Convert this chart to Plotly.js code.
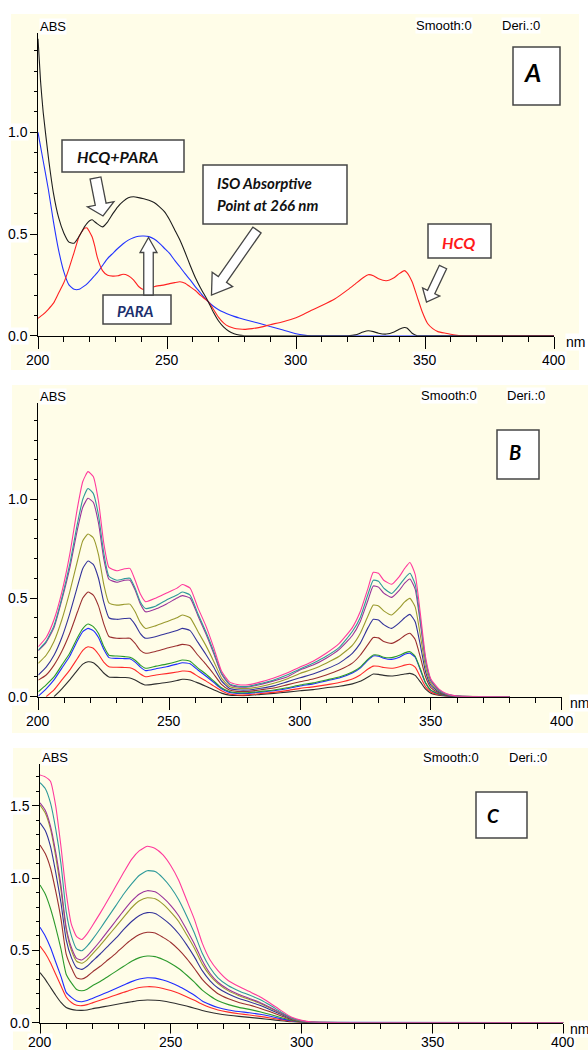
<!DOCTYPE html>
<html><head><meta charset="utf-8">
<script src="https://cdn.plot.ly/plotly-3.0.1.min.js"></script>
<style>html,body{margin:0;padding:0;background:#fff}#chart{width:588px;height:1050px}</style>
</head><body><div id="chart"></div>
<script>
// ---------------- DATA ----------------
// Panel A : wavelengths (nm) and absorbances
const wlA = [200,201,202,204,206,208,210,212,214,216,218,219,220,221,222,223,225,227,229,231,233,235,237,239,241,243,245,247,249,251,253,255,257,259,261,263,265,266,268,270,272,274,276,278,280,283,286,290,295,300,303,306,310,315,320,323,326,328,330,332,335,338,340,342,343,345,347,349,351,353,355,358,361,365,400];
const absMix = [1.46,1.25,1.10,0.88,0.70,0.58,0.505,0.46,0.455,0.49,0.535,0.552,0.565,0.57,0.56,0.55,0.535,0.56,0.60,0.635,0.66,0.678,0.683,0.679,0.673,0.666,0.655,0.635,0.61,0.57,0.52,0.47,0.41,0.345,0.285,0.235,0.19,0.167,0.115,0.072,0.042,0.022,0.01,0.003,0,0,0,0,0,0,0,0,0,0,0,0.004,0.018,0.024,0.02,0.012,0.008,0.018,0.032,0.04,0.038,0.012,0,0,0,0,0,0,0,0,0];
const absHCQ = [0.085,0.095,0.105,0.13,0.16,0.21,0.26,0.33,0.41,0.49,0.528,0.53,0.51,0.485,0.44,0.385,0.32,0.297,0.293,0.295,0.302,0.295,0.275,0.242,0.226,0.232,0.241,0.246,0.25,0.256,0.261,0.265,0.258,0.24,0.222,0.198,0.178,0.167,0.13,0.09,0.062,0.045,0.037,0.033,0.031,0.035,0.041,0.054,0.069,0.088,0.105,0.125,0.148,0.18,0.225,0.255,0.285,0.3,0.295,0.28,0.27,0.285,0.305,0.32,0.31,0.265,0.19,0.115,0.06,0.035,0.02,0.012,0.005,0,0];
const absPARA = [1.0,0.93,0.86,0.72,0.56,0.42,0.315,0.25,0.228,0.228,0.245,0.255,0.268,0.282,0.296,0.31,0.345,0.38,0.405,0.43,0.452,0.47,0.482,0.489,0.49,0.487,0.475,0.455,0.43,0.405,0.37,0.339,0.305,0.274,0.24,0.21,0.18,0.167,0.145,0.128,0.115,0.104,0.095,0.087,0.08,0.07,0.06,0.045,0.028,0.01,0.003,0,0,0,0,0,0,0,0,0,0,0,0,0,0,0,0,0,0,0,0,0,0,0,0];

// Panel B : HCQ concentration series
const wlB = [200,203,206,209,212,215,217,219,221,223, 225,227,230,233,235,237,239,241,245,249, 253,255,258,261,264,267,270,273,276,280, 285,290,295,300,305,310,315,320,323,326, 328,330,332,335,338,340,342,344,346,348, 350,353,356,360,380];
const bBlack = [null,null,0.0,0.04,0.085,0.135,0.165,0.177,0.172,0.15, 0.12,0.1,0.098,0.097,0.095,0.085,0.07,0.059,0.065,0.072, 0.082,0.088,0.085,0.07,0.053,0.035,0.018,0.008,0.006,0.006, 0.012,0.017,0.023,0.03,0.036,0.045,0.053,0.065,0.078,0.1, 0.115,0.113,0.108,0.105,0.11,0.115,0.118,0.108,0.075,0.038, 0.018,0.008,0.003,0,0];
const bRed = [null,0.0,0.035,0.085,0.135,0.195,0.235,0.253,0.245,0.215, 0.175,0.152,0.149,0.148,0.147,0.135,0.115,0.101,0.11,0.117, 0.125,0.13,0.127,0.103,0.08,0.055,0.03,0.014,0.009,0.009, 0.016,0.022,0.031,0.042,0.05,0.06,0.072,0.09,0.11,0.14, 0.155,0.154,0.148,0.144,0.152,0.16,0.164,0.15,0.1,0.05, 0.024,0.01,0.004,0.001,0];
const bBlue = [0.003,0.04,0.085,0.145,0.205,0.285,0.33,0.346,0.335,0.30, 0.24,0.198,0.194,0.193,0.192,0.175,0.15,0.132,0.142,0.152, 0.165,0.172,0.167,0.135,0.105,0.073,0.04,0.022,0.017,0.017, 0.023,0.03,0.04,0.054,0.065,0.08,0.095,0.12,0.145,0.185, 0.206,0.205,0.195,0.189,0.2,0.215,0.22,0.2,0.135,0.068, 0.032,0.014,0.005,0.001,0];
const bGreen = [0.025,0.06,0.10,0.16,0.22,0.30,0.345,0.368,0.355,0.32, 0.255,0.21,0.206,0.203,0.2,0.185,0.16,0.144,0.155,0.165, 0.178,0.186,0.18,0.145,0.115,0.08,0.045,0.026,0.02,0.02, 0.027,0.034,0.045,0.059,0.07,0.085,0.1,0.125,0.15,0.19, 0.211,0.21,0.2,0.198,0.21,0.222,0.228,0.205,0.14,0.07, 0.033,0.015,0.006,0.001,0];
const bBrown = [0.084,0.11,0.16,0.23,0.32,0.43,0.50,0.53,0.515,0.46, 0.37,0.305,0.296,0.296,0.296,0.27,0.235,0.22,0.23,0.245, 0.258,0.265,0.258,0.21,0.165,0.115,0.062,0.034,0.027,0.027, 0.035,0.044,0.06,0.076,0.09,0.11,0.135,0.17,0.21,0.265, 0.30,0.298,0.28,0.27,0.29,0.31,0.321,0.29,0.2,0.1, 0.046,0.02,0.008,0.002,0];
const bNavy = [0.11,0.15,0.21,0.30,0.42,0.56,0.65,0.687,0.67,0.60, 0.48,0.40,0.392,0.396,0.397,0.365,0.32,0.296,0.305,0.32, 0.335,0.346,0.335,0.275,0.215,0.15,0.08,0.043,0.035,0.034, 0.043,0.055,0.075,0.096,0.115,0.14,0.17,0.22,0.27,0.35, 0.392,0.388,0.365,0.346,0.375,0.40,0.417,0.38,0.26,0.125, 0.058,0.025,0.01,0.002,0];
const bOlive = [0.169,0.21,0.28,0.39,0.53,0.69,0.79,0.824,0.805,0.72, 0.57,0.475,0.464,0.468,0.469,0.43,0.375,0.346,0.36,0.38, 0.40,0.414,0.40,0.33,0.26,0.18,0.095,0.052,0.043,0.042, 0.052,0.068,0.09,0.118,0.14,0.17,0.205,0.26,0.32,0.41, 0.464,0.46,0.435,0.414,0.45,0.48,0.498,0.455,0.31,0.15, 0.068,0.03,0.011,0.003,0];
const bPurple = [0.233,0.275,0.35,0.49,0.65,0.85,0.96,1.005,0.985,0.88, 0.70,0.595,0.58,0.59,0.59,0.54,0.47,0.43,0.445,0.47, 0.50,0.512,0.50,0.41,0.32,0.22,0.115,0.062,0.05,0.049, 0.062,0.08,0.10,0.135,0.16,0.195,0.24,0.31,0.38,0.49, 0.561,0.555,0.525,0.503,0.54,0.575,0.596,0.545,0.37,0.18, 0.08,0.033,0.012,0.003,0];
const bTeal = [0.236,0.28,0.36,0.50,0.67,0.88,1.00,1.055,1.03,0.92, 0.73,0.61,0.59,0.598,0.60,0.55,0.48,0.447,0.46,0.49, 0.515,0.53,0.515,0.42,0.33,0.23,0.12,0.066,0.054,0.052, 0.067,0.085,0.11,0.14,0.17,0.205,0.25,0.33,0.40,0.52, 0.59,0.585,0.55,0.523,0.565,0.60,0.625,0.57,0.39,0.185, 0.085,0.035,0.013,0.003,0];
const bPink = [0.253,0.30,0.39,0.53,0.72,0.96,1.09,1.14,1.115,0.99, 0.78,0.655,0.638,0.648,0.65,0.59,0.52,0.481,0.50,0.525, 0.55,0.568,0.55,0.45,0.36,0.25,0.13,0.075,0.062,0.06, 0.075,0.095,0.12,0.15,0.18,0.22,0.27,0.35,0.43,0.55, 0.63,0.625,0.59,0.57,0.61,0.65,0.68,0.62,0.42,0.2, 0.09,0.04,0.015,0.003,0];

// Panel C : PARA concentration series
const wlC = [200,202,204,206,208,210,212,214,216,218, 220,223,226,229,232,235,238,241,244,247, 250,253,256,259,262,265,268,272,276,280, 284,288,292,296,300,304,400];
const cBlack = [0.346,0.30,0.245,0.19,0.14,0.105,0.092,0.086,0.085,0.088, 0.097,0.106,0.116,0.126,0.136,0.145,0.153,0.157,0.155,0.15, 0.14,0.128,0.115,0.1,0.085,0.072,0.062,0.052,0.044,0.037, 0.03,0.022,0.014,0.007,0.003,0.001,0];
const cRed = [0.53,0.48,0.415,0.335,0.255,0.178,0.14,0.121,0.118,0.125, 0.137,0.155,0.173,0.192,0.21,0.228,0.243,0.249,0.247,0.237, 0.222,0.203,0.18,0.155,0.127,0.105,0.088,0.073,0.062,0.053, 0.044,0.033,0.021,0.01,0.004,0.001,0];
const cBlue = [0.66,0.60,0.52,0.42,0.32,0.21,0.175,0.15,0.145,0.153, 0.168,0.19,0.213,0.237,0.26,0.284,0.302,0.311,0.308,0.295, 0.277,0.252,0.222,0.19,0.15,0.125,0.105,0.088,0.077,0.069, 0.058,0.044,0.028,0.013,0.005,0.002,0];
const cGreen = [0.952,0.89,0.79,0.66,0.51,0.335,0.275,0.23,0.221,0.232, 0.255,0.285,0.32,0.355,0.39,0.425,0.45,0.461,0.457,0.437, 0.41,0.375,0.33,0.28,0.225,0.185,0.152,0.125,0.106,0.092, 0.076,0.057,0.036,0.017,0.006,0.002,0];
const cBrown = [1.229,1.17,1.07,0.91,0.72,0.475,0.38,0.31,0.302,0.32, 0.35,0.39,0.435,0.48,0.53,0.575,0.61,0.625,0.62,0.59, 0.555,0.505,0.445,0.375,0.3,0.245,0.2,0.165,0.14,0.122, 0.1,0.075,0.048,0.022,0.008,0.003,0];
const cNavy = [1.383,1.33,1.22,1.04,0.83,0.575,0.45,0.38,0.369,0.39, 0.425,0.475,0.53,0.585,0.645,0.70,0.742,0.761,0.755,0.72, 0.675,0.615,0.54,0.455,0.36,0.29,0.24,0.198,0.168,0.145, 0.12,0.09,0.058,0.027,0.01,0.003,0];
const cOlive = [1.505,1.45,1.34,1.15,0.92,0.645,0.50,0.425,0.411,0.435, 0.475,0.535,0.60,0.665,0.73,0.795,0.843,0.864,0.857,0.82, 0.765,0.70,0.61,0.515,0.405,0.325,0.27,0.22,0.187,0.161, 0.135,0.1,0.065,0.03,0.011,0.004,0];
const cPurple = [1.521,1.47,1.36,1.18,0.95,0.66,0.52,0.445,0.434,0.46, 0.50,0.565,0.635,0.705,0.775,0.84,0.89,0.913,0.905,0.865, 0.81,0.74,0.645,0.545,0.43,0.34,0.28,0.23,0.195,0.168, 0.14,0.105,0.068,0.032,0.012,0.004,0];
const cTeal = [1.66,1.62,1.52,1.34,1.10,0.77,0.60,0.51,0.498,0.53, 0.575,0.65,0.73,0.81,0.89,0.96,1.02,1.051,1.045,1.0, 0.935,0.85,0.74,0.62,0.48,0.38,0.31,0.255,0.22,0.191, 0.16,0.12,0.075,0.035,0.013,0.004,0];
const cPink = [1.713,1.70,1.67,1.50,1.22,0.90,0.68,0.595,0.575,0.615, 0.67,0.758,0.85,0.945,1.04,1.13,1.19,1.22,1.205,1.16, 1.085,0.985,0.85,0.715,0.55,0.433,0.36,0.29,0.25,0.215, 0.18,0.135,0.085,0.04,0.016,0.005,0];

// axis tick labels
const xTickVals = [200,250,300,350,400];
const yTickValsAB = [0,0.5,1.0];
const yTickValsC = [0,0.5,1.0,1.5];

// ---------------- STYLE / LAYOUT ----------------
const W = 588, H = 1050;
const seriesColors = ['#2e2e2e','#ff2a2a','#1f2cff','#2c9a2c','#9b2f2f','#33339a','#9a9a2e','#9a339a','#2f9a9a','#ff3a9c'];
const bSeries = [bBlack,bRed,bBlue,bGreen,bBrown,bNavy,bOlive,bPurple,bTeal,bPink];
const cSeries = [cBlack,cRed,cBlue,cGreen,cBrown,cNavy,cOlive,cPurple,cTeal,cPink];

const panels = {
  A:{ax:'',  x0:38,   x1:554,   y0:335.7,  scale:203.4, ymax:1.49, bg:[11,14,579,370],  lab:24, nmx:565},
  B:{ax:'2', x0:38.3, x1:561.7, y0:696.7,  scale:197.4, ymax:1.49, bg:[12,385,588,733], lab:24, nmx:569},
  C:{ax:'3', x0:40,   x1:563.4, y0:1022.7, scale:144.6, ymax:1.79, bg:[13,748,588,1050], lab:19, nmx:569}
};
const fx = px => px / W;
const fy = py => 1 - py / H;
const NARROW = 'Liberation Sans Narrow, Arial Narrow, Liberation Sans, Arial, sans-serif';
const LABEL = 'Lato, Open Sans, Noto Sans, sans-serif';

const traces = [];
const lw = 1.1;
const ln = c => ({color:c, width:lw, shape:'spline', smoothing:0.5});
traces.push({x:wlA, y:absPARA, xaxis:'x', yaxis:'y', mode:'lines', line:ln('#2233ff'), hoverinfo:'skip'});
traces.push({x:wlA, y:absHCQ, xaxis:'x', yaxis:'y', mode:'lines', line:ln('#ff2222'), hoverinfo:'skip'});
traces.push({x:wlA, y:absMix, xaxis:'x', yaxis:'y', mode:'lines', line:ln('#1e1e1e'), hoverinfo:'skip'});
bSeries.forEach((s,i)=>traces.push({x:wlB, y:s, xaxis:'x2', yaxis:'y2', mode:'lines', line:ln(seriesColors[i]), hoverinfo:'skip'}));
cSeries.forEach((s,i)=>traces.push({x:wlC, y:s, xaxis:'x3', yaxis:'y3', mode:'lines', line:ln(seriesColors[i]), hoverinfo:'skip'}));

const layout = {
  width:W, height:H, margin:{l:0,r:0,t:0,b:0},
  paper_bgcolor:'#ffffff', plot_bgcolor:'rgba(0,0,0,0)',
  showlegend:false, shapes:[], annotations:[],
  font:{family:NARROW, size:13, color:'#000'}
};

Object.keys(panels).forEach(key=>{
  const p = panels[key];
  const yTop = p.y0 - p.ymax*p.scale;
  layout['xaxis'+p.ax] = {
    domain:[fx(p.x0), fx(p.x1)], range:[200,400], anchor:'y'+p.ax,
    showline:true, linecolor:'#000', linewidth:1, showgrid:false, zeroline:false,
    ticks:'outside', tick0:200, dtick:50, ticklen:12, tickwidth:1, tickcolor:'#000',
    minor:{ticks:'outside', tick0:200, dtick:10, ticklen:5, tickwidth:1, tickcolor:'#000', showgrid:false},
    showticklabels:false, layer:'below traces', fixedrange:true
  };
  layout['yaxis'+p.ax] = {
    domain:[fy(p.y0), fy(yTop)], range:[0,p.ymax], anchor:'x'+p.ax,
    showline:true, linecolor:'#000', linewidth:1, showgrid:false, zeroline:false,
    ticks:'outside', tick0:0, dtick:0.5, ticklen:7, tickwidth:1, tickcolor:'#000',
    minor:{ticks:'outside', tick0:0, dtick:0.1, ticklen:3, tickwidth:1, tickcolor:'#000', showgrid:false},
    showticklabels:false, layer:'below traces', fixedrange:true
  };
  layout.shapes.push({type:'rect', xref:'paper', yref:'paper', layer:'below',
    x0:fx(p.bg[0]), x1:fx(p.bg[2]), y0:fy(p.bg[3]), y1:fy(p.bg[1]),
    fillcolor:'#fffde8', line:{width:0}});
  xTickVals.forEach(v=>layout.annotations.push({xref:'x'+p.ax, yref:'paper', x:v, y:fy(p.y0+p.lab),
    text:String(v), showarrow:false, xanchor:'center', yanchor:'middle', bgcolor:'#fff', borderpad:0,
    font:{family:NARROW, size:14, color:'#000'}}));
  const yv = key==='C' ? yTickValsC : yTickValsAB;
  yv.forEach(v=>layout.annotations.push({xref:'paper', yref:'y'+p.ax, x:fx(p.x0-9), y:v,
    text:v.toFixed(1), showarrow:false, xanchor:'right', yanchor:'middle', bgcolor:'#fff', borderpad:0,
    font:{family:NARROW, size:14, color:'#000'}}));
  layout.annotations.push({xref:'paper', yref:'paper', x:fx(p.x0+1), y:fy(yTop-6), text:'ABS', showarrow:false,
    xanchor:'left', yanchor:'middle', bgcolor:'#fff', borderpad:0, font:{family:NARROW, size:13, color:'#000'}});
  layout.annotations.push({xref:'paper', yref:'paper', x:fx(p.nmx), y:fy(p.y0+6), text:'nm', showarrow:false,
    xanchor:'left', yanchor:'middle', bgcolor:'#fff', borderpad:0, font:{family:NARROW, size:14, color:'#000'}});
});

[[415,25],[420,395],[422,757]].forEach(([x,y])=>{
  layout.annotations.push({xref:'paper', yref:'paper', x:fx(x), y:fy(y), text:'Smooth:0', showarrow:false,
    xanchor:'left', yanchor:'middle', bgcolor:'#fff', borderpad:0, font:{family:NARROW, size:13, color:'#000'}});
  layout.annotations.push({xref:'paper', yref:'paper', x:fx(x+86), y:fy(y), text:'Deri.:0', showarrow:false,
    xanchor:'left', yanchor:'middle', bgcolor:'#fff', borderpad:0, font:{family:NARROW, size:13, color:'#000'}});
});

function box(x0,y0,x1,y1){
  layout.shapes.push({type:'rect', xref:'paper', yref:'paper', layer:'above',
    x0:fx(x0), x1:fx(x1), y0:fy(y1), y1:fy(y0), fillcolor:'#ffffff', line:{color:'#454545', width:1.5}});
}
function label(x,y,txt,size,color,anchor){
  layout.annotations.push({xref:'paper', yref:'paper', x:fx(x), y:fy(y), text:'<b><i>'+txt+'</i></b>', showarrow:false,
    xanchor:anchor||'center', yanchor:'middle', font:{family:LABEL, size:size, color:color}});
}
box(513,47,560,105); label(532,72,'A',25,'#000');
box(497,430,539,479); label(515,452,'B',20,'#000');
box(476,792,527,838); label(493,815,'C',19,'#000');

box(62,140,184,172); label(75,157,'HCQ+PARA',16,'#111','left');
box(103,295,171,324); label(115,311,'PARA',15,'#1c2f6e','left');
box(203,165,347,224); label(215,183,'ISO Absorptive',15,'#111','left'); label(215,205,'Point at 266 nm',15,'#111','left');
box(428,224,491,258); label(440,242,'HCQ',16,'#ff1a1a','left');

function blockArrow(tx,ty,hx,hy,sw,hw,hl){
  const dx=hx-tx, dy=hy-ty, L=Math.hypot(dx,dy), ux=dx/L, uy=dy/L, nx=-uy, ny=ux;
  const bx=hx-ux*hl, by=hy-uy*hl;
  const pts=[[tx+nx*sw/2,ty+ny*sw/2],[bx+nx*sw/2,by+ny*sw/2],[bx+nx*hw/2,by+ny*hw/2],[hx,hy],
             [bx-nx*hw/2,by-ny*hw/2],[bx-nx*sw/2,by-ny*sw/2],[tx-nx*sw/2,ty-ny*sw/2]];
  const path='M'+pts.map(p=>fx(p[0]).toFixed(5)+','+fy(p[1]).toFixed(5)).join(' L')+' Z';
  layout.shapes.push({type:'path', xref:'paper', yref:'paper', layer:'above', path:path,
    fillcolor:'#ffffff', line:{color:'#454545', width:1.3}});
}
blockArrow(95.5,178,103,216,11,27,12);
blockArrow(148.5,295,148.5,237.5,9.5,17,15);
blockArrow(257,230,211.5,295,10,25,19);
blockArrow(443,267,426.5,302,8,19,11);

Plotly.newPlot('chart', traces, layout, {displayModeBar:false, staticPlot:true});
</script>
</body></html>
